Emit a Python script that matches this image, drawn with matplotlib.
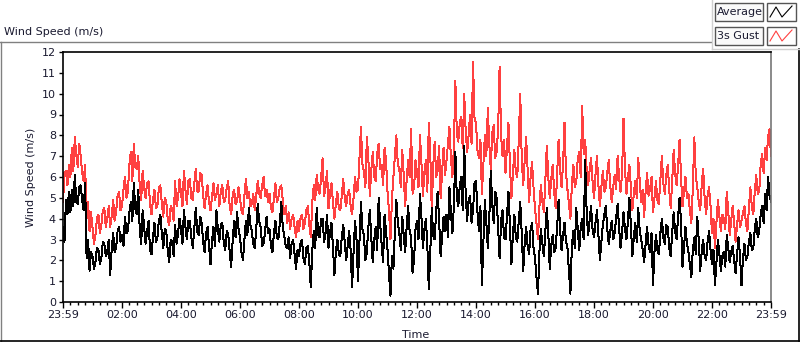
import numpy as np
import matplotlib
matplotlib.use('Agg')
import matplotlib.pyplot as plt
from matplotlib.lines import Line2D
from matplotlib.patches import Rectangle

# samples every 3 minutes starting at 23:59, one row per hour
avg = [
    3.6, 2.9, 4.9, 4.2, 5.3, 4.3, 5.4, 4.6, 6.1, 4.8, 4.7, 5.5, 5.6, 4.9, 4.4, 5.7, 2.1, 3.0, 1.5, 2.4,
    2.2, 1.6, 1.9, 2.6, 2.5, 1.8, 2.1, 2.9, 2.8, 2.2, 2.4, 3.0, 1.3, 2.5, 3.3, 2.4, 2.6, 3.4, 3.6, 2.9,
    3.2, 2.7, 4.1, 3.3, 3.4, 4.3, 4.8, 3.9, 5.7, 4.5, 4.2, 5.4, 3.5, 2.8, 4.4, 3.6, 2.8, 3.4, 3.9, 2.5,
    2.3, 3.1, 3.8, 2.9, 3.1, 3.9, 4.2, 3.3, 2.6, 3.5, 3.4, 2.5, 1.9, 3.0, 2.9, 2.2, 3.7, 2.8, 3.3, 4.0,
    3.5, 2.8, 4.4, 3.6, 3.0, 3.9, 3.9, 3.1, 2.6, 3.5, 4.5, 3.4, 3.2, 4.1, 3.8, 2.9, 2.4, 3.3, 3.6, 2.7,
    1.8, 2.9, 3.6, 2.7, 4.4, 3.5, 2.9, 3.7, 3.8, 2.8, 2.5, 3.4, 3.3, 2.4, 1.7, 2.9, 3.9, 3.1, 4.3, 3.5,
    3.1, 2.4, 2.0, 3.0, 3.9, 3.2, 4.5, 3.7, 3.4, 2.8, 2.6, 3.5, 4.7, 3.9, 3.6, 2.7, 2.8, 3.4, 4.1, 3.3,
    3.5, 2.7, 2.4, 3.3, 3.9, 3.1, 3.0, 3.8, 4.8, 3.6, 3.2, 2.7, 2.6, 3.1, 2.1, 2.8, 3.0, 2.3, 1.6, 2.5,
    2.2, 2.8, 3.0, 2.1, 1.8, 2.6, 2.7, 1.9, 0.7, 2.5, 3.4, 2.6, 4.5, 3.2, 3.1, 4.0, 4.0, 2.9, 3.3, 4.2,
    2.6, 3.3, 3.8, 2.7, 1.3, 2.4, 3.0, 2.3, 2.2, 3.1, 3.7, 2.9, 2.0, 2.7, 3.4, 2.5, 0.7, 2.4, 3.9, 3.0,
    1.0, 2.9, 4.8, 3.5, 3.2, 2.0, 2.4, 3.6, 4.4, 3.1, 1.9, 3.0, 3.6, 2.5, 5.0, 3.8, 2.8, 1.9, 4.2, 3.4,
    2.5, 1.4, 0.3, 2.2, 1.6, 3.4, 4.9, 3.8, 3.3, 2.5, 4.1, 3.2, 2.4, 3.6, 4.6, 3.4, 3.1, 1.4, 2.0, 3.5,
    3.9, 3.0, 5.2, 4.1, 2.6, 3.5, 4.0, 2.7, 0.6, 2.4, 4.5, 3.2, 3.0, 4.4, 5.3, 3.9, 2.2, 3.1, 4.1, 3.4,
    4.2, 3.1, 5.5, 4.3, 3.3, 4.6, 7.2, 5.0, 4.6, 5.6, 6.0, 4.4, 7.5, 5.2, 3.9, 4.9, 5.1, 3.8, 4.4, 5.7,
    5.8, 4.3, 3.4, 4.6, 0.8, 2.9, 4.9, 3.8, 2.6, 4.0, 6.3, 4.7, 3.8, 5.3, 5.0, 3.6, 2.1, 3.9, 4.4, 3.1,
    3.0, 4.1, 5.3, 3.7, 1.8, 3.2, 4.2, 3.1, 2.9, 3.9, 4.8, 3.3, 1.5, 2.8, 3.6, 2.7, 2.3, 3.5, 3.8, 2.6,
    2.1, 1.2, 0.4, 2.4, 3.5, 2.8, 2.2, 3.4, 4.5, 3.3, 1.6, 2.7, 3.2, 2.4, 2.6, 3.6, 4.9, 3.5, 2.5, 3.2,
    3.8, 2.9, 2.6, 1.5, 0.4, 2.7, 3.4, 2.6, 4.5, 3.5, 2.5, 3.6, 4.0, 3.0, 6.8, 4.4, 3.2, 3.9, 4.6, 3.5,
    3.1, 3.8, 4.4, 3.2, 2.0, 2.9, 3.7, 4.2, 4.6, 3.5, 2.8, 3.4, 3.9, 3.0, 3.3, 4.0, 4.7, 3.6, 2.6, 3.3,
    4.3, 3.5, 3.0, 3.9, 5.0, 3.7, 2.2, 3.1, 3.8, 2.9, 4.5, 3.4, 3.0, 2.5, 1.9, 2.8, 3.6, 2.7, 2.4, 3.3,
    0.8, 2.4, 3.2, 2.5, 2.3, 3.3, 4.0, 3.1, 2.8, 3.7, 3.6, 2.6, 2.2, 3.3, 4.3, 3.4, 3.0, 4.1, 5.0, 3.8,
    1.7, 2.6, 3.6, 2.8, 2.4, 1.8, 1.2, 2.5, 3.1, 2.3, 4.1, 3.0, 1.5, 2.4, 3.0, 2.2, 2.0, 2.9, 3.4, 2.5,
    1.8, 2.5, 0.8, 1.9, 3.0, 2.3, 1.5, 2.2, 2.4, 1.7, 3.2, 2.6, 1.9, 2.4, 2.7, 2.0, 1.4, 2.3, 3.1, 2.2,
    0.8, 2.1, 2.8, 2.0, 2.2, 2.9, 3.3, 2.5, 2.6, 3.5, 4.0, 3.1, 3.4, 4.2, 4.6, 3.8, 5.2, 4.4, 6.0, 5.1,
    4.8,
]
gust = [
    4.8, 6.2, 6.3, 5.6, 6.6, 6.0, 7.4, 6.3, 7.9, 7.1, 6.5, 7.6, 7.0, 6.2, 5.8, 6.6, 4.0, 4.8, 3.4, 4.3,
    3.6, 2.8, 3.2, 4.0, 4.2, 3.3, 3.7, 4.4, 4.5, 3.6, 4.0, 4.6, 3.6, 4.1, 4.9, 3.9, 4.3, 5.1, 5.3, 4.4,
    4.6, 5.4, 6.0, 5.0, 5.3, 6.6, 7.2, 5.8, 7.6, 6.5, 6.4, 7.0, 5.6, 4.9, 6.3, 5.5, 5.0, 5.7, 5.8, 4.7,
    4.2, 4.9, 5.4, 4.5, 4.6, 5.5, 5.6, 4.7, 4.1, 5.0, 4.8, 4.0, 3.7, 4.6, 4.5, 3.9, 5.8, 4.6, 5.0, 5.9,
    5.2, 4.6, 6.3, 5.4, 4.7, 5.8, 5.9, 5.0, 4.9, 5.7, 6.4, 5.3, 5.3, 6.2, 6.1, 5.1, 4.5, 5.2, 5.6, 4.8,
    4.4, 5.0, 5.7, 4.9, 5.2, 5.6, 4.6, 5.3, 5.6, 4.8, 4.9, 5.5, 5.8, 4.6, 4.2, 5.1, 5.4, 4.7, 4.8, 5.5,
    5.0, 4.4, 4.2, 5.1, 5.9, 5.0, 5.3, 4.6, 4.7, 5.2, 4.4, 5.1, 5.8, 5.2, 5.0, 5.6, 6.0, 5.1, 5.4, 4.8,
    5.2, 4.5, 4.3, 5.0, 5.7, 4.8, 5.0, 5.5, 5.6, 4.9, 4.2, 4.6, 3.8, 4.3, 3.5, 4.0, 4.2, 3.6, 3.1, 3.9,
    3.4, 4.0, 4.2, 3.5, 3.8, 4.4, 4.6, 3.7, 3.1, 4.8, 5.6, 4.9, 6.1, 5.4, 5.2, 6.0, 6.9, 5.1, 5.5, 6.3,
    4.5, 5.2, 5.7, 4.8, 4.0, 4.7, 5.3, 4.5, 4.4, 5.1, 5.9, 5.0, 4.6, 5.2, 5.4, 4.6, 4.2, 5.0, 6.0, 5.3,
    5.4, 6.9, 8.4, 6.6, 6.3, 5.5, 7.9, 6.9, 5.1, 6.3, 7.2, 6.0, 5.8, 7.1, 7.6, 6.4, 6.6, 5.6, 7.4, 6.8,
    5.3, 4.4, 3.0, 4.9, 6.0, 7.0, 8.0, 6.6, 6.4, 5.5, 7.3, 6.1, 4.6, 5.9, 6.8, 6.0, 8.3, 5.2, 5.5, 6.8,
    6.2, 5.5, 8.0, 6.7, 5.1, 6.2, 6.8, 5.3, 8.6, 7.1, 4.4, 6.5, 7.7, 6.0, 6.3, 7.5, 5.0, 6.2, 7.4, 6.1,
    6.8, 7.6, 8.4, 6.9, 6.0, 7.4, 10.6, 8.1, 7.7, 8.6, 8.9, 7.4, 10.0, 8.2, 7.2, 8.0, 9.0, 7.6, 11.5, 8.8,
    8.6, 7.3, 6.9, 7.8, 5.2, 6.6, 8.0, 7.0, 9.3, 7.6, 6.4, 8.1, 8.5, 6.9, 7.2, 8.3, 11.3, 8.0, 7.0, 7.8,
    6.2, 7.4, 8.6, 6.6, 5.0, 6.1, 7.3, 6.2, 6.0, 7.8, 10.0, 6.9, 5.6, 6.8, 7.9, 6.3, 4.8, 6.0, 6.7, 5.5,
    4.5, 3.8, 3.0, 4.6, 5.6, 4.8, 4.3, 5.8, 7.5, 6.0, 5.0, 5.9, 6.6, 5.3, 4.5, 6.2, 7.8, 6.4, 5.5, 6.6,
    8.6, 6.2, 5.4, 4.7, 4.0, 5.6, 6.6, 5.5, 5.8, 6.9, 7.2, 6.0, 9.4, 7.1, 7.8, 6.4, 5.6, 6.3, 6.9, 5.8,
    5.0, 6.1, 7.0, 5.6, 4.6, 5.5, 6.3, 5.3, 5.5, 6.2, 6.8, 5.6, 4.8, 5.5, 6.1, 5.4, 7.0, 6.0, 5.3, 6.1,
    8.8, 6.4, 5.2, 6.0, 6.6, 5.5, 4.4, 5.2, 5.8, 5.0, 6.9, 5.8, 4.8, 5.4, 4.1, 5.3, 6.2, 5.1, 5.4, 6.0,
    4.3, 5.0, 5.8, 4.9, 4.7, 5.9, 7.0, 5.7, 5.2, 6.1, 6.6, 5.4, 4.5, 5.8, 7.3, 6.2, 5.6, 6.5, 7.8, 6.0,
    4.6, 5.3, 6.0, 5.0, 5.2, 4.4, 3.8, 5.5, 7.9, 6.1, 5.5, 4.8, 4.4, 5.6, 6.4, 5.0, 4.2, 5.1, 5.5, 4.6,
    3.3, 4.0, 2.6, 3.8, 4.9, 4.1, 3.4, 4.2, 4.0, 3.5, 5.3, 4.4, 3.2, 3.9, 4.6, 3.8, 2.9, 3.7, 4.4, 3.6,
    3.9, 4.3, 4.6, 3.8, 3.4, 4.5, 5.5, 4.6, 4.2, 5.3, 6.1, 5.2, 5.3, 6.6, 7.1, 6.2, 7.4, 6.8, 7.9, 8.3,
    7.0,
]
tick_labels = ['23:59', '02:00', '04:00', '06:00', '08:00', '10:00', '12:00',
               '14:00', '16:00', '18:00', '20:00', '22:00', '23:59']

hours = np.arange(len(avg)) * 0.05
txt = '#1a1a30'

fig = plt.figure(figsize=(8, 3.42), dpi=100)
ax = fig.add_axes([63/800, 40/342, 708/800, 250/342])

ax.plot(hours, gust, color='#ff4040', lw=0.72, antialiased=False)
ax.plot(hours, avg, color='black', lw=0.72, antialiased=False)

ax.set_xlim(0, 24)
ax.set_ylim(0, 12)
ax.set_yticks(range(13))
ax.set_xticks(range(0, 25, 2))
ax.set_xticklabels(tick_labels)
ax.set_xticks(np.arange(0, 24.01, 0.25), minor=True)
ax.tick_params(axis='both', labelsize=8, colors='black', labelcolor=txt, length=3, width=1, pad=2)
ax.tick_params(axis='x', which='minor', length=2, width=1)
ax.tick_params(axis='x', which='major', length=4, width=1)
for s in ax.spines.values():
    s.set_linewidth(1.2)
ax.spines['right'].set_color('#777777')

ax.set_ylabel('Wind Speed (m/s)', fontsize=8, color=txt, labelpad=4)
fig.text(416/800, 1 - 335/342, 'Time', fontsize=8, color=txt, ha='center', va='center')
fig.text(4/800, 1 - 32/342, 'Wind Speed (m/s)', fontsize=8, color=txt, ha='left', va='center')

# window frame
W, H = 800, 342
def px(x0, y0, x1, y1, c, lw=1.0):
    fig.add_artist(Line2D([x0/W, x1/W], [1 - y0/H, 1 - y1/H], color=c, lw=lw))
px(0, 42, 711, 42, '#808080')
px(0.5, 42, 0.5, 341, '#808080')
px(0, 340.5, 800, 340.5, 'black', 1.2)
px(799, 49, 799, 341, 'black', 1.2)
px(712, 0, 712, 49, '#d0d0d0')
px(712, 49, 800, 49, '#d0d0d0')

# legend
for i, (name, col) in enumerate([('Average', 'black'), ('3s Gust', '#ff4040')]):
    y0 = 3 + i * 24
    fig.add_artist(Rectangle((715/W, 1 - (y0 + 18)/H), 48/W, 18/H, transform=fig.transFigure,
                             facecolor='#fafafa', edgecolor='#555555', lw=1))
    fig.text(717/W, 1 - (y0 + 9)/H, name, fontsize=8, color=txt, ha='left', va='center')
    fig.add_artist(Rectangle((767/W, 1 - (y0 + 18)/H), 29/W, 18/H, transform=fig.transFigure,
                             facecolor='white', edgecolor='#555555', lw=1))
    lx = np.array([770, 776, 782, 792]) / W
    ly = 1 - (y0 + np.array([14, 4, 14, 3])) / H
    fig.add_artist(Line2D(lx, ly, color=col, lw=0.8))

fig.savefig('out.png', dpi=100)
